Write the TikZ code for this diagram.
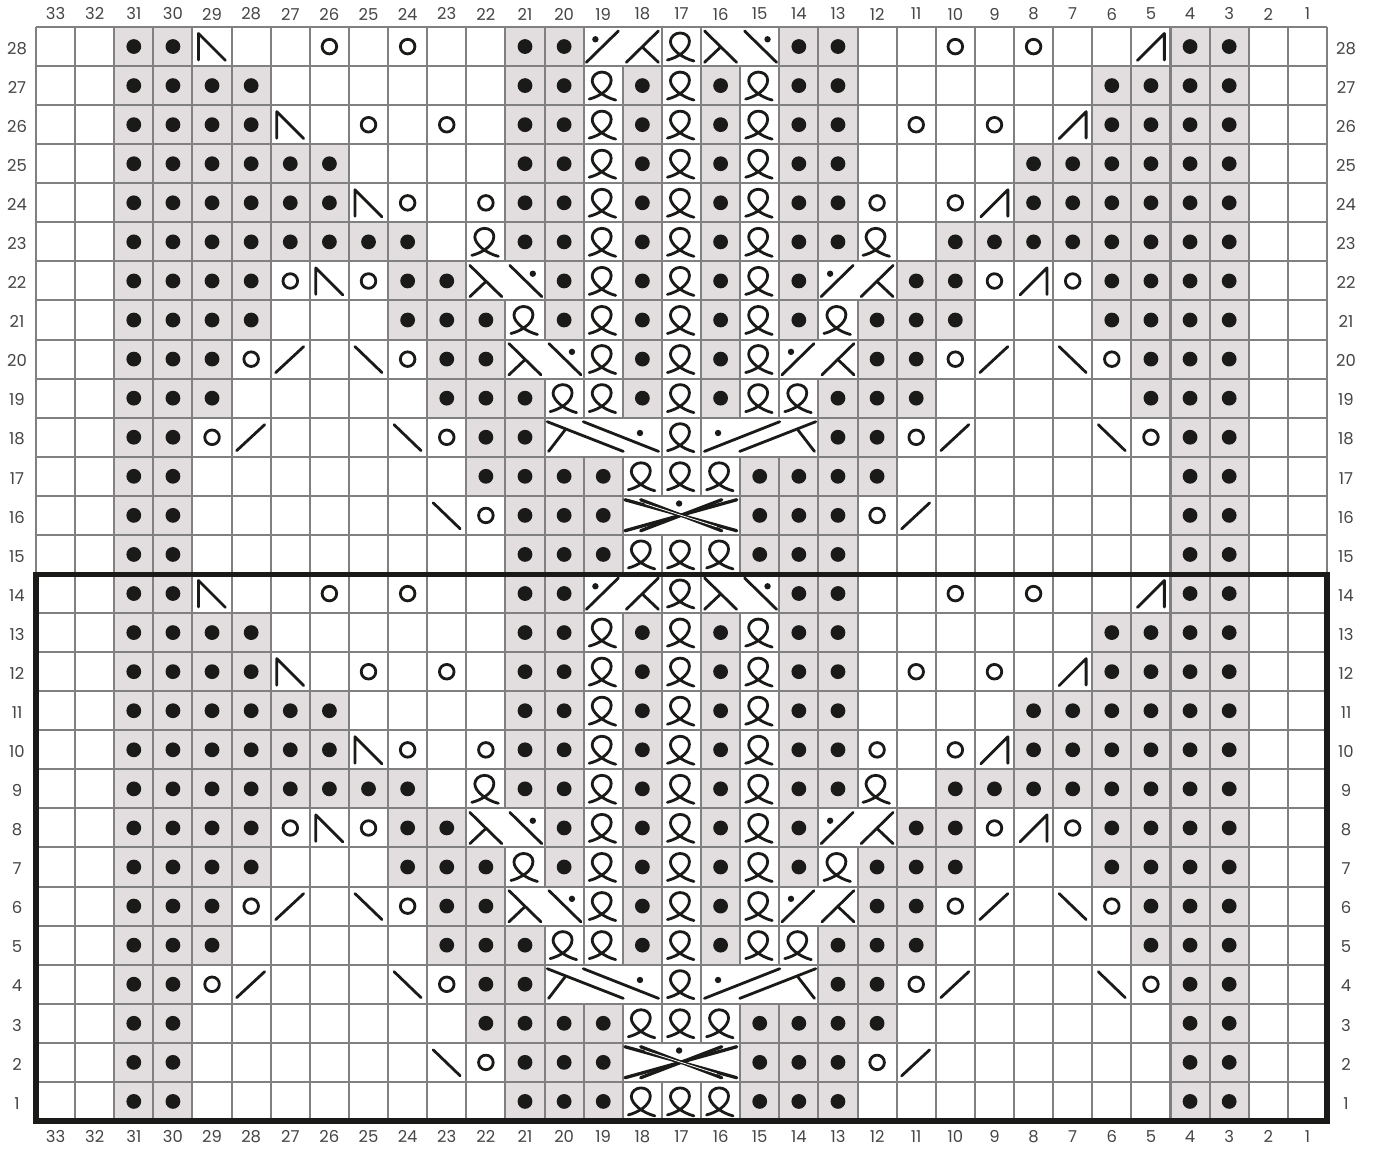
\documentclass[tikz,border=0pt]{standalone}
\usepackage{fontspec}
\setmainfont{Poppins}
\definecolor{ink}{HTML}{1A1A18}
\definecolor{shadecell}{HTML}{E2DEDF}
\definecolor{gridcol}{HTML}{808080}
\definecolor{numcol}{HTML}{454545}
\tikzset{
  sym/.style={draw=ink,line width=2.8*0.75pt,line cap=round,line join=round},
  gridline/.style={draw=gridcol,line width=2.0*0.75pt},
  frameline/.style={draw=ink,line width=5.2*0.75pt,line join=miter},
  numlabel/.style={text=numcol,font=\fontsize{12.3pt}{14pt}\selectfont,inner sep=0pt,anchor=center},
  pics/purlst/.style={code={
    \fill[shadecell] (0,0) rectangle (39.12,39.07);
    \fill[ink] (19.56,19.53) circle (7.4);}},
  pics/yoring/.style={code={\draw[sym] (19.56,19.6) circle (7.3);}},
  pics/loopst/.style={code={
    \draw[sym] (5.5,33) .. controls (14,31) and (27.5,24) .. (27.5,14)
      .. controls (27.5,9) and (23,6) .. (18,6)
      .. controls (13,6) and (8.5,10) .. (8.5,14.5)
      .. controls (8.5,22) and (20,31) .. (32,34);}},
  pics/nleft/.style={code={\draw[sym] (6,33) -- (6,6.5) -- (33,33.5);}},
  pics/nright/.style={code={\draw[sym] (33,33) -- (33,6.5) -- (6,33.5);}},
  pics/slashr/.style={code={\draw[sym] (5,33) -- (33,7);}},
  pics/slashl/.style={code={\draw[sym] (6,7) -- (33,33);}},
  pics/twoleft/.style={code={
    \fill[white] (1,1) rectangle (77.24,38.07);
    \draw[sym] (2.7,35.3) -- (34.7,4);
    \draw[sym] (42.7,35.3) -- (74.7,4);
    \draw[sym] (59.3,20.7) -- (74.7,35.3);
    \fill[ink] (11.7,12.3) circle (3.2);}},
  pics/tworight/.style={code={
    \fill[white] (1,1) rectangle (77.24,38.07);
    \draw[sym] (75.5,35.3) -- (43.5,4);
    \draw[sym] (35.5,35.3) -- (3.5,4);
    \draw[sym] (18.9,20.7) -- (3.5,35.3);
    \fill[ink] (66.5,12.3) circle (3.2);}},
  pics/threeleft/.style={code={
    \fill[white] (1,1) rectangle (116.36,38.07);
    \draw[sym] (2.7,4) -- (78.7,33.7);
    \draw[sym] (20.7,12) -- (4,33.7);
    \draw[sym] (38.7,4) -- (114,33.7);
    \fill[ink] (95.4,15.3) circle (3.2);}},
  pics/threeright/.style={code={
    \fill[white] (1,1) rectangle (116.36,38.07);
    \draw[sym] (114.7,4) -- (38.7,33.7);
    \draw[sym] (96.7,12) -- (113.4,33.7);
    \draw[sym] (78.7,4) -- (3.4,33.7);
    \fill[ink] (17,15.3) circle (3.2);}},
  pics/crossx/.style={code={
    \fill[white] (1,1) rectangle (116.36,38.07);
    \begin{scope}[sym,line width=3.3*0.75pt]
    \draw (2.2,34.9) -- (113.9,3.9);
    \draw (17.9,34.9) -- (98.9,3.9);
    \draw (2.2,3.9) -- (113.9,34.9);
    \draw (17.9,3.9) -- (98.9,34.9);
    \end{scope}
    \draw[white,line width=0.8*0.75pt] (22,7.8) -- (94,31);
    \fill[ink] (56.3,7.7) circle (3.2);}},
}
\begin{document}
\begin{tikzpicture}[x=0.75pt,y=-0.75pt]
\useasboundingbox (0,0) rectangle (1376,1148);
\fill[white] (0,0) rectangle (1376,1148);
% purl cells
\foreach \o in {0,14} {
  \foreach \r/\l in {
    14/{31,30,21,20,14,13,4,3},
    13/{31,30,29,28,21,20,18,16,14,13,6,5,4,3},
    12/{31,30,29,28,21,20,18,16,14,13,6,5,4,3},
    11/{31,30,29,28,27,26,21,20,18,16,14,13,8,7,6,5,4,3},
    10/{31,30,29,28,27,26,21,20,18,16,14,13,8,7,6,5,4,3},
    9/{31,30,29,28,27,26,25,24,21,20,18,16,14,13,10,9,8,7,6,5,4,3},
    8/{31,30,29,28,24,23,20,18,16,14,11,10,6,5,4,3},
    7/{31,30,29,28,24,23,22,20,18,16,14,12,11,10,6,5,4,3},
    6/{31,30,29,23,22,18,16,12,11,5,4,3},
    5/{31,30,29,23,22,21,18,16,13,12,11,5,4,3},
    4/{31,30,22,21,13,12,4,3},
    3/{31,30,22,21,20,19,15,14,13,12,4,3},
    2/{31,30,21,20,19,15,14,13,4,3},
    1/{31,30,21,20,19,15,14,13,4,3}} {
    \foreach \c in \l {
      \pgfmathsetmacro\X{36+39.12*(33-\c)}
      \pgfmathsetmacro\Y{27+39.07*(28-\r-\o)}
      \pic at (\X,\Y) {purlst};
    }
  }
}
% grid
\foreach \i in {0,...,33} {
  \pgfmathsetmacro\X{36+39.12*\i}
  \draw[gridline] (\X,27) -- (\X,1121);
}
\foreach \i in {0,...,28} {
  \pgfmathsetmacro\Y{27+39.07*\i}
  \draw[gridline] (36,\Y) -- (1327,\Y);
}
% symbols: type / row / left-most column
\foreach \o in {0,14} {
  \foreach \t/\r/\l in {
    nleft/14/{29}, yoring/14/{26,24,10,8}, twoleft/14/{19}, loopst/14/{17}, tworight/14/{16}, nright/14/{5},
    loopst/13/{19,17,15},
    nleft/12/{27}, yoring/12/{25,23,11,9}, loopst/12/{19,17,15}, nright/12/{7},
    loopst/11/{19,17,15},
    nleft/10/{25}, yoring/10/{24,22,12,10}, loopst/10/{19,17,15}, nright/10/{9},
    loopst/9/{22,19,17,15,12},
    yoring/8/{27,25,9,7}, nleft/8/{26}, tworight/8/{22}, loopst/8/{19,17,15}, twoleft/8/{13}, nright/8/{8},
    loopst/7/{21,19,17,15,13},
    yoring/6/{28,24,10,6}, slashr/6/{27,9}, slashl/6/{25,7}, tworight/6/{21}, loopst/6/{19,17,15}, twoleft/6/{14},
    loopst/5/{20,19,17,15,14},
    yoring/4/{29,23,11,5}, slashr/4/{28,10}, slashl/4/{24,6}, threeleft/4/{20}, loopst/4/{17}, threeright/4/{16},
    loopst/3/{18,17,16},
    slashl/2/{23}, yoring/2/{22,12}, crossx/2/{18}, slashr/2/{11},
    loopst/1/{18,17,16}} {
    \foreach \c in \l {
      \pgfmathsetmacro\X{36+39.12*(33-\c)}
      \pgfmathsetmacro\Y{27+39.07*(28-\r-\o)}
      \edef\placepic{\noexpand\pic at (\X,\Y) {\t};}
      \placepic
    }
  }
}
% thick frame
\draw[frameline] (36,574.5) rectangle (1327,1121);
% labels
\foreach \c in {1,...,33} {
  \pgfmathsetmacro\X{36+39.12*(33-\c)+19.56}
  \node[numlabel] (top\c) at (\X,14) {\c};
  \node[numlabel] (bot\c) at (\X,1136.5) {\c};
}
\foreach \r in {1,...,28} {
  \pgfmathsetmacro\Y{27+39.07*(28-\r)+21.3}
  \node[numlabel] (lft\r) at (17,\Y) {\r};
  \node[numlabel] (rgt\r) at (1346,\Y) {\r};
}
\end{tikzpicture}
\end{document}
